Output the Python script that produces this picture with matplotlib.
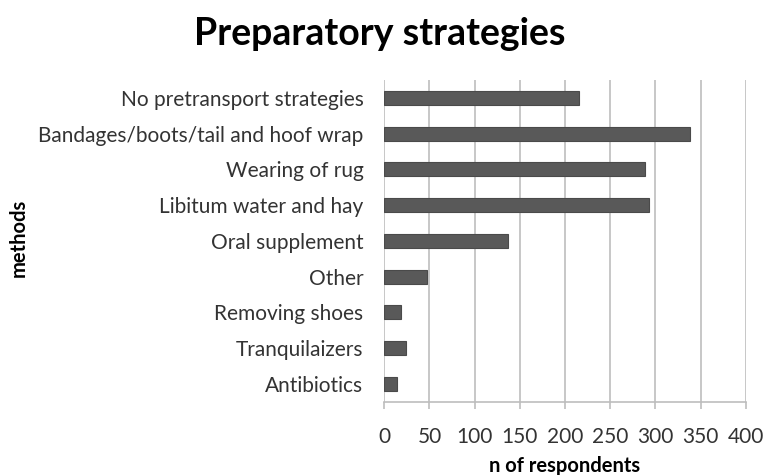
import matplotlib
matplotlib.use('Agg')
import matplotlib.pyplot as plt

methods = ["No pretransport strategies", "Bandages/boots/tail and hoof wrap",
           "Wearing of rug", "Libitum water and hay", "Oral supplement",
           "Other", "Removing shoes", "Tranquilaizers", "Antibiotics"]
respondents = [216, 338, 289, 293, 137, 47, 18, 24, 14]
xticks = [0, 50, 100, 150, 200, 250, 300, 350, 400]

plt.rcParams['font.family'] = ['Lato', 'DejaVu Sans']

fig = plt.figure(figsize=(7.63, 4.75), dpi=100)
ax = fig.add_axes([0.5037, 0.1543, 0.4736, 0.6773])

ypos = list(range(len(methods)))[::-1]
ax.barh(ypos, respondents, height=0.39, color='#595959', edgecolor='#4a4a4a',
        linewidth=0.8, zorder=3)

ax.set_xlim(0, 400)
ax.set_ylim(-0.5, len(methods) - 0.5)
ax.set_xticks(xticks)
ax.set_xticklabels([str(t) for t in xticks], fontsize=15, color='#333333')
ax.set_yticks(ypos)
ax.set_yticklabels(methods, fontsize=15, color='#333333')

ax.grid(axis='x', color='#bdbdbd', linewidth=1.2, zorder=0)
for s in ['top', 'right', 'left']:
    ax.spines[s].set_visible(False)
ax.spines['bottom'].set_color('#bdbdbd')
ax.spines['bottom'].set_linewidth(1.2)
ax.tick_params(axis='y', length=0, pad=15)
ax.tick_params(axis='x', length=5, color='#bdbdbd', width=1.2, pad=13)

fig.text(0.74, 0.02, "n of respondents", fontsize=14.5, fontweight='bold',
         ha='center', va='center')
fig.text(0.024, 0.50, "methods", rotation=90, fontsize=14.5, fontweight='bold',
         ha='center', va='center')
fig.text(0.498, 0.928, "Preparatory strategies", fontsize=27, fontweight='bold',
         ha='center', va='center')

plt.savefig("out.png", dpi=100)
